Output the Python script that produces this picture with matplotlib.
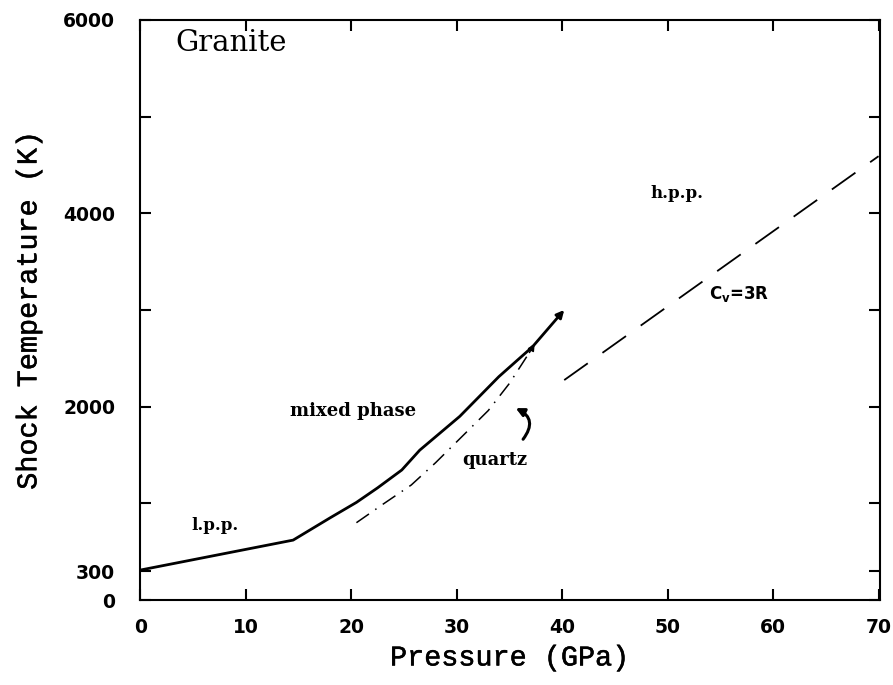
import matplotlib
matplotlib.use('Agg')
import matplotlib.pyplot as plt
import matplotlib.patheffects as pe

plt.rcParams['mathtext.fontset'] = 'dejavusans'

# 实线：花岗岩冲击温度
solid_p = [0, 14.5, 18, 20.5, 22.5, 24.8, 26.5, 30.3, 34.0, 37.2, 40.2]
solid_T = [310, 620, 850, 1010, 1160, 1345, 1550, 1900, 2310, 2620, 3000]

# 点划线：石英
quartz_p = [20.5, 23, 25.7, 28, 30.5, 33, 35, 36.9, 37.4]
quartz_T = [800, 990, 1190, 1420, 1690, 1960, 2240, 2560, 2650]

# 虚线：Cv=3R 高压相
hpp_p = [40.2, 70.0]
hpp_T = [2275, 4590]

x_ticks = [0, 10, 20, 30, 40, 50, 60, 70]
y_ticks = [0, 300, 1000, 2000, 3000, 4000, 5000, 6000]
y_labels = ['0', '300', '', '2000', '', '4000', '', '6000']

fig = plt.figure(figsize=(8.93, 6.85), dpi=100)
ax = fig.add_axes([0.157, 0.124, 0.828, 0.847])

# 实线 + 末端箭头
ax.plot(solid_p[:-1], solid_T[:-1], color='black', lw=2.0, solid_capstyle='round')
ax.annotate('', xy=(solid_p[-1], solid_T[-1]), xytext=(solid_p[-2], solid_T[-2]),
            arrowprops=dict(arrowstyle='-|>', color='black', lw=2.0,
                            mutation_scale=11, shrinkA=0, shrinkB=0))

# 点划线 + 末端箭头
ax.plot(quartz_p[:-1], quartz_T[:-1], color='black', lw=1.1, dashes=(10, 5, 1, 5))
ax.annotate('', xy=(quartz_p[-1], quartz_T[-1]), xytext=(quartz_p[-2], quartz_T[-2]),
            arrowprops=dict(arrowstyle='-|>', color='black', lw=1.1,
                            mutation_scale=10, shrinkA=0, shrinkB=0))

# 虚线
ax.plot(hpp_p, hpp_T, color='black', lw=1.3, dashes=(16, 10))

# quartz 弯箭头
ax.annotate('', xy=(35.6, 1985), xytext=(36.3, 1663),
            arrowprops=dict(arrowstyle='-|>', color='black', lw=2.2,
                            mutation_scale=12, shrinkA=0, shrinkB=0,
                            connectionstyle='arc3,rad=0.6'))

# 文字标注
ax.text(3.3, 5760, 'Granite', fontsize=21, family='DejaVu Serif', va='center', ha='left')
ax.text(20.2, 1955, 'mixed phase', fontsize=13, family='DejaVu Serif',
        fontweight='bold', ha='center', va='center')
ax.text(33.6, 1450, 'quartz', fontsize=13, family='DejaVu Serif',
        fontweight='bold', ha='center', va='center')
ax.text(7.1, 775, 'l.p.p.', fontsize=12, family='DejaVu Serif',
        fontweight='bold', ha='center', va='center')
ax.text(50.9, 4205, 'h.p.p.', fontsize=12, family='DejaVu Serif',
        fontweight='bold', ha='center', va='center')
ax.text(56.8, 3170, r'C$_\mathbf{v}$=3R', fontsize=12, family='DejaVu Sans',
        fontweight='bold', ha='center', va='center')

ax.set_xlim(0, 70.1)
ax.set_ylim(0, 6000)
ax.set_xticks(x_ticks)
ax.set_yticks(y_ticks)
ax.set_yticklabels(y_labels)

ax.tick_params(direction='in', top=True, right=True, length=8, width=1.5,
               labelsize=13.5)
ax.tick_params(axis='x', pad=13)
ax.tick_params(axis='y', pad=18)
for lab in ax.get_xticklabels() + ax.get_yticklabels():
    lab.set_fontweight('bold')
for s in ax.spines.values():
    s.set_linewidth(1.5)

thick = [pe.withStroke(linewidth=0.35, foreground='black')]
ax.set_xlabel('Pressure (GPa)', fontsize=20.5, family='Liberation Mono', labelpad=6,
              path_effects=thick)
ax.set_ylabel('Shock Temperature (K)', fontsize=20.5, family='Liberation Mono', labelpad=15,
              path_effects=thick)

fig.savefig('out.png', dpi=100)
